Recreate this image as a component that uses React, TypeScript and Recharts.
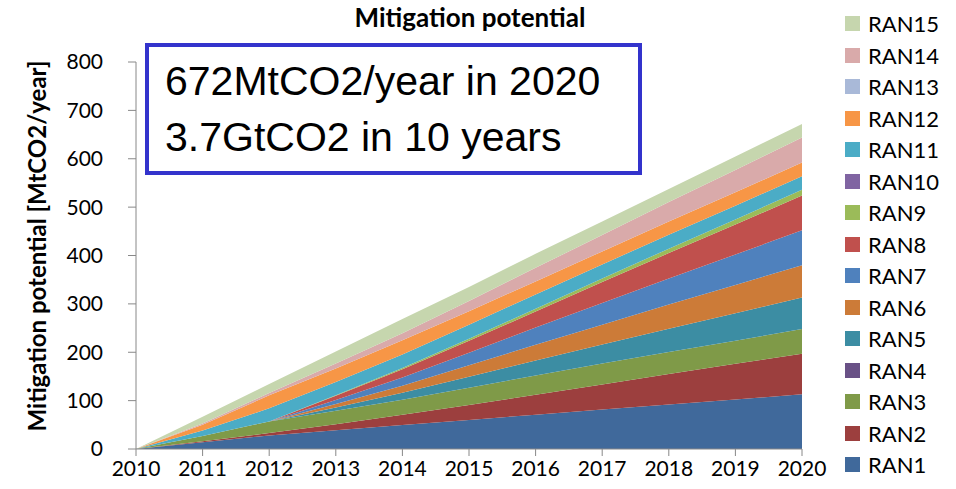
import React from 'react';
import { AreaChart, Area, XAxis, YAxis } from 'recharts';

// years on the x axis
const years = [2010, 2011, 2012, 2013, 2014, 2015, 2016, 2017, 2018, 2019, 2020];

// mitigation potential per region, MtCO2/year
const ran1 = [0, 14, 28, 39, 49.5, 60, 71, 81.5, 92, 102.5, 113];
const ran2 = [0, 2, 5, 12, 21.5, 31, 41, 52, 63, 73.5, 84];
const ran3 = [0, 11, 24, 28, 31, 35.5, 40, 43, 45.5, 48, 51];
const ran4 = [0, 0, 0, 0, 0, 0, 0, 0, 0, 0, 0];
const ran5 = [0, 0, 0, 7, 14.5, 23, 31, 39.5, 48, 56.5, 65];
const ran6 = [0, 0, 0, 7, 14.5, 23.5, 32.5, 41, 50, 58.5, 67];
const ran7 = [0, 0, 0, 8.5, 17, 26, 35.5, 45, 54, 63, 72];
const ran8 = [0, 0, 0, 8.5, 17, 25, 33, 43, 52.5, 62, 72];
const ran9 = [0, 0, 0, 1, 2.5, 4, 6, 7.5, 9, 10.5, 12];
const ran10 = [0, 0, 0, 0, 0, 0, 0, 0, 0, 0, 0];
const ran11 = [0, 11, 27, 27.5, 28, 29, 29.5, 29, 29, 28.5, 28];
const ran12 = [0, 12, 27, 28, 29.5, 28, 27, 27, 27.5, 27.5, 28];
const ran13 = [0, 0, 0, 0, 0, 0, 0, 0, 0, 0, 0];
const ran14 = [0, 2.5, 5, 10, 14.5, 21, 28, 34, 40, 46, 52];
const ran15 = [0, 14, 18.5, 25, 29, 29, 29, 28, 27, 28, 28];

const yTicks = [0, 100, 200, 300, 400, 500, 600, 700, 800];

const series = [
  { key: 'RAN1', values: ran1, color: '#40699b' },
  { key: 'RAN2', values: ran2, color: '#9c3f3e' },
  { key: 'RAN3', values: ran3, color: '#7f9a48' },
  { key: 'RAN4', values: ran4, color: '#695186' },
  { key: 'RAN5', values: ran5, color: '#3c8da3' },
  { key: 'RAN6', values: ran6, color: '#cc7b38' },
  { key: 'RAN7', values: ran7, color: '#4f81bd' },
  { key: 'RAN8', values: ran8, color: '#c0504d' },
  { key: 'RAN9', values: ran9, color: '#9bbb59' },
  { key: 'RAN10', values: ran10, color: '#8064a2' },
  { key: 'RAN11', values: ran11, color: '#4bacc6' },
  { key: 'RAN12', values: ran12, color: '#f79646' },
  { key: 'RAN13', values: ran13, color: '#a9b9d8' },
  { key: 'RAN14', values: ran14, color: '#d9aaaa' },
  { key: 'RAN15', values: ran15, color: '#c6d6ae' },
];

const data = years.map((year, i) => {
  const row: Record<string, number> = { year };
  series.forEach(s => { row[s.key] = s.values[i]; });
  return row;
});

const FONT = 'Lato, "Open Sans", sans-serif';
const axisColor = '#888888';

export default function App() {
  return (
    <div style={{ position: 'absolute', left: 0, top: 0, width: 956, height: 489, background: '#fff', fontFamily: FONT }}>
      <AreaChart width={956} height={489} data={data} margin={{ top: 62, right: 154, bottom: 0, left: 76 }}>
        <XAxis
          dataKey="year"
          type="number"
          domain={[2010, 2020]}
          ticks={years}
          height={40}
          stroke={axisColor}
          tickSize={7}
          tickMargin={5}
          tick={{ fontSize: 21, fill: '#000', fontFamily: FONT }}
        />
        <YAxis
          domain={[0, 800]}
          ticks={yTicks}
          width={60}
          stroke={axisColor}
          tickSize={8}
          tickMargin={25}
          tick={{ fontSize: 21, fill: '#000', fontFamily: FONT }}
        />
        {series.map(s => (
          <Area
            key={s.key}
            type="linear"
            dataKey={s.key}
            stackId="1"
            stroke="none"
            fill={s.color}
            fillOpacity={1}
            isAnimationActive={false}
          />
        ))}
      </AreaChart>

      <div style={{ position: 'absolute', left: 270, width: 400, top: 1, textAlign: 'center', fontSize: 26, fontWeight: 700 }}>
        Mitigation potential
      </div>

      <div
        style={{
          position: 'absolute', left: 36, top: 246, transform: 'translate(-50%, -50%) rotate(-90deg)',
          whiteSpace: 'nowrap', fontSize: 24, fontWeight: 700,
        }}
      >
        Mitigation potential [MtCO2/year]
      </div>

      <div
        style={{
          position: 'absolute', left: 145, top: 43, width: 473, height: 118,
          border: '4px solid #3333cc', background: '#fff',
          fontFamily: '"Liberation Sans", Arial, sans-serif', fontSize: 41, lineHeight: '56px',
          paddingLeft: 16, paddingTop: 6, boxSizing: 'content-box',
        }}
      >
        <div>672MtCO2/year in 2020</div>
        <div>3.7GtCO2 in 10 years</div>
      </div>

      <div style={{ position: 'absolute', left: 845, top: 8 }}>
        {[...series].reverse().map(s => (
          <div key={s.key} style={{ display: 'flex', alignItems: 'center', height: 31.5 }}>
            <span style={{ width: 15, height: 15, background: s.color, display: 'inline-block', marginRight: 8 }} />
            <span style={{ fontSize: 22 }}>{s.key}</span>
          </div>
        ))}
      </div>
    </div>
  );
}
